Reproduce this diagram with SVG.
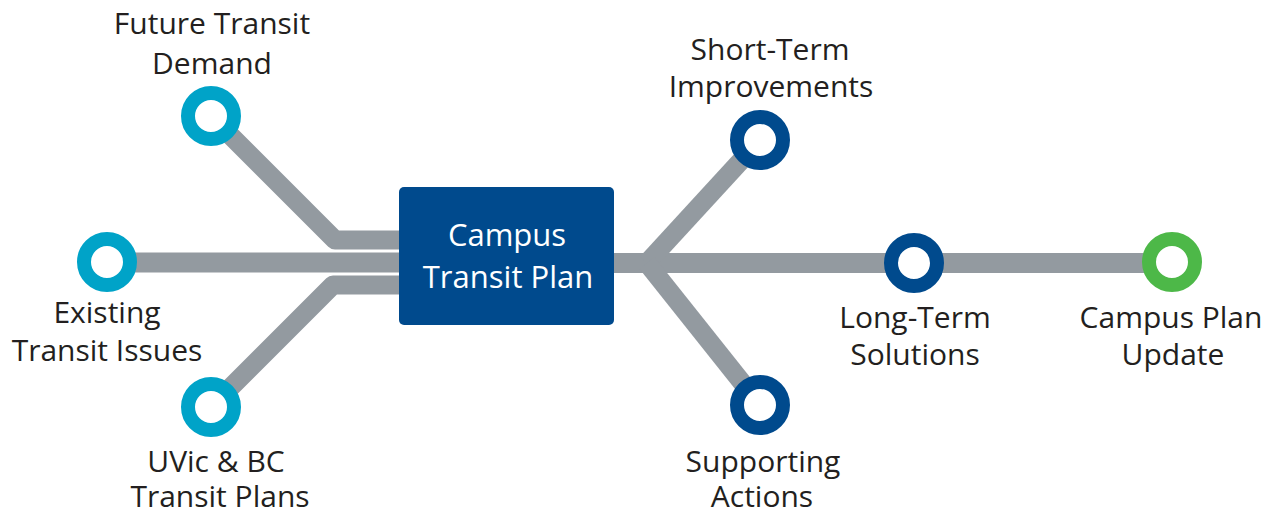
<svg xmlns="http://www.w3.org/2000/svg" width="1284" height="514" viewBox="0 0 1284 514">
<style>
.ln{fill:none;stroke:#939aa0;stroke-width:19;stroke-linejoin:round}
.main{stroke-width:20}
.ring{fill:#fff;stroke-width:14}
.cy{stroke:#00a3c8}
.db{stroke:#004a8d}
.gr{stroke:#4db848}
.t{font-family:"Open Sans","Liberation Sans",sans-serif;font-size:30px;fill:#231f20;text-anchor:middle}
.bt{font-family:"Open Sans","Liberation Sans",sans-serif;font-size:31px;fill:#fff;text-anchor:middle}
</style>
<rect width="1284" height="514" fill="#fff"/>
<g id="connectors">
<path class="ln main" d="M107,262.5 H400"/>
<path class="ln" d="M211,116 L335,240 H400"/>
<path class="ln" d="M211,407 L333,285 H400"/>
<path class="ln main" d="M613,263 H1172"/>
<path class="ln" d="M647,263 L760,140"/>
<path class="ln" d="M647,263 L760,405"/>
</g>
<g id="campus-transit-plan">
<rect x="399" y="187" width="215" height="138" rx="5" fill="#004a8d"/>
<text class="bt" x="507" y="246">Campus</text>
<text class="bt" x="508" y="288">Transit Plan</text>
</g>
<g id="future-transit-demand">
<circle class="ring cy" cx="211" cy="116" r="23"/>
<text class="t" x="212" y="34">Future Transit</text>
<text class="t" x="212" y="74">Demand</text>
</g>
<g id="existing-transit-issues">
<circle class="ring cy" cx="107" cy="262" r="23"/>
<text class="t" x="107" y="323">Existing</text>
<text class="t" x="107" y="361">Transit Issues</text>
</g>
<g id="uvic-bc-transit-plans">
<circle class="ring cy" cx="211" cy="407" r="23"/>
<text class="t" x="216" y="472">UVic &amp; BC</text>
<text class="t" x="220" y="507">Transit Plans</text>
</g>
<g id="short-term-improvements">
<circle class="ring db" cx="760" cy="140" r="23"/>
<text class="t" x="770" y="60">Short-Term</text>
<text class="t" x="771" y="97">Improvements</text>
</g>
<g id="supporting-actions">
<circle class="ring db" cx="760" cy="405" r="23"/>
<text class="t" x="763" y="472">Supporting</text>
<text class="t" x="762" y="507">Actions</text>
</g>
<g id="long-term-solutions">
<circle class="ring db" cx="914" cy="263" r="23"/>
<text class="t" x="915" y="328">Long-Term</text>
<text class="t" x="915" y="365">Solutions</text>
</g>
<g id="campus-plan-update">
<circle class="ring gr" cx="1172" cy="262" r="23"/>
<text class="t" x="1171" y="328">Campus Plan</text>
<text class="t" x="1173" y="365">Update</text>
</g>
</svg>
